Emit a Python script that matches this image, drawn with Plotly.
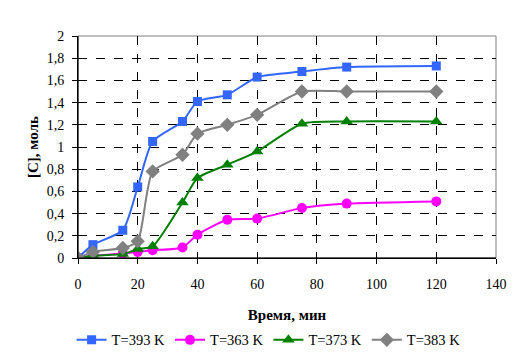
import plotly.graph_objects as go

time_min = [0, 5, 15, 20, 25, 35, 40, 50, 60, 75, 90, 120]
c_393 = [0, 0.12, 0.25, 0.64, 1.05, 1.23, 1.41, 1.47, 1.63, 1.68, 1.72, 1.73]
c_363 = [0, 0.02, 0.04, 0.055, 0.07, 0.095, 0.21, 0.345, 0.355, 0.45, 0.49, 0.51]
c_373 = [0, 0.02, 0.035, 0.08, 0.105, 0.5, 0.72, 0.84, 0.96, 1.21, 1.23, 1.23]
c_383 = [0, 0.055, 0.09, 0.15, 0.78, 0.93, 1.12, 1.2, 1.29, 1.5, 1.5, 1.5]

series = [
    ("T=393 K", c_393, "#3366FF", "square", 9),
    ("T=363 K", c_363, "#FF00FF", "circle", 10),
    ("T=373 K", c_373, "#008000", "triangle-up", 11),
    ("T=383 K", c_383, "#808080", "diamond", 11),
]

fig = go.Figure()
for name, vals, color, sym, size in series:
    fig.add_trace(go.Scatter(
        x=time_min, y=vals, name=name, mode="lines+markers",
        line=dict(color=color, width=2, shape="spline", smoothing=0.6),
        marker=dict(symbol=sym, size=size, color=color),
    ))

FAM = "Liberation Serif"
fig.update_layout(
    width=510, height=346,
    margin=dict(l=70, r=22, t=28, b=96, autoexpand=False),
    paper_bgcolor="white", plot_bgcolor="white",
    font=dict(family=FAM, size=14, color="black"),
    separators=", ",
    showlegend=True,
    legend=dict(orientation="h", x=0.456, xanchor="center", y=-0.369, yanchor="middle",
                font=dict(family=FAM, size=14.5, color="black"), itemwidth=30, tracegroupgap=0),
    xaxis=dict(range=[0, 140], dtick=20, tick0=0, showgrid=True, gridcolor="black",
               griddash="dash", gridwidth=1, zeroline=False, showline=True,
               linecolor="black", linewidth=1, ticks="outside", ticklen=5,
               tickcolor="black", ticklabelstandoff=8, automargin=False,
               tickfont=dict(family=FAM, size=14, color="black"),
               title=dict(text="<b>Время, мин</b>", standoff=18,
                          font=dict(family=FAM, size=15, color="black"))),
    yaxis=dict(range=[0, 2], dtick=0.2, tick0=0, showgrid=True, gridcolor="black",
               griddash="dash", gridwidth=1, zeroline=False, showline=True,
               linecolor="black", linewidth=1, ticks="outside", ticklen=5,
               tickcolor="black", ticklabelstandoff=5, automargin=False,
               tickfont=dict(family=FAM, size=14, color="black"),
               title=dict(text="<b>[C], моль</b>", standoff=4,
                          font=dict(family=FAM, size=15, color="black"))),
    shapes=[dict(type="rect", xref="paper", yref="paper", x0=0, x1=1, y0=0, y1=1,
                 line=dict(color="#808080", width=1), layer="below"),
            dict(type="line", xref="paper", yref="paper", x0=0, x1=0, y0=0, y1=1,
                 line=dict(color="black", width=1)),
            dict(type="line", xref="paper", yref="paper", x0=0, x1=1, y0=0, y1=0,
                 line=dict(color="black", width=1))],
)
fig.write_html("out.html")
